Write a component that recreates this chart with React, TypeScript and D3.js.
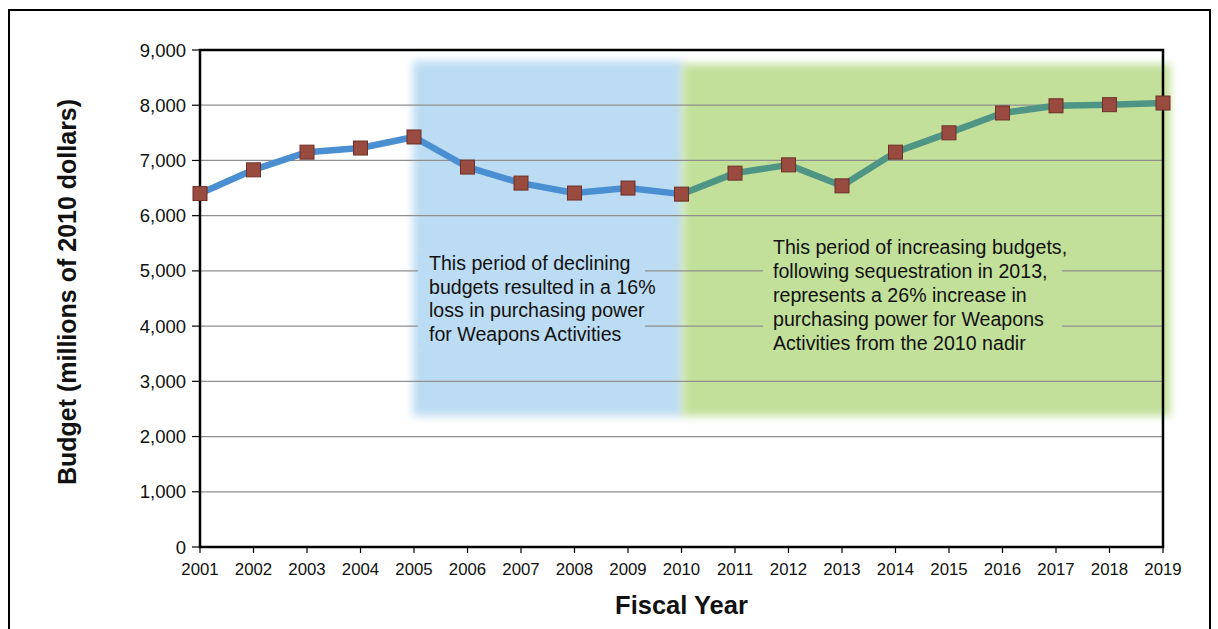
import React from "react";
import * as d3 from "d3";

const years = [2001, 2002, 2003, 2004, 2005, 2006, 2007, 2008, 2009, 2010, 2011, 2012, 2013, 2014, 2015, 2016, 2017, 2018, 2019];
const budget = [6400, 6830, 7150, 7225, 7425, 6880, 6590, 6410, 6500, 6390, 6770, 6920, 6540, 7150, 7500, 7860, 7990, 8010, 8040];
const yTicks = [0, 1000, 2000, 3000, 4000, 5000, 6000, 7000, 8000, 9000];
const declineText = ["This period of declining", "budgets resulted in a 16%", "loss in purchasing power", "for Weapons Activities"];
const increaseText = ["This period of increasing budgets,", "following sequestration in 2013,", "represents a 26% increase in", "purchasing power for Weapons", "Activities from the 2010 nadir"];

const W = 1218, H = 629;
const L = 200, R = 1163, T = 50, B = 547;
const FONT = "'Liberation Sans', Arial, Helvetica, sans-serif";

export default function App() {
  const x = d3.scaleLinear().domain([2001, 2019]).range([L, R]);
  const y = d3.scaleLinear().domain([0, 9000]).range([B, T]);
  const pts = years.map((yr, i) => [x(yr), y(budget[i])] as [number, number]);
  const line = d3.line();
  const split = years.indexOf(2010);
  const bluePath = line(pts.slice(0, split + 1)) || "";
  const tealPath = line(pts.slice(split)) || "";
  const fmt = d3.format(",");
  const ms = 14;

  return (
    <svg width={W} height={H} style={{ position: "absolute", left: 0, top: 0, background: "#fff" }}>
      <defs>
        <filter id="soft" x="-5%" y="-5%" width="110%" height="110%">
          <feGaussianBlur stdDeviation="4" />
        </filter>
      </defs>
      {/* outer frame */}
      <path d={`M9,${H + 5} V10 H1210 V${H + 5}`} fill="none" stroke="#000" strokeWidth={2} />

      {/* shaded regions */}
      <rect x={x(2005) - 1} y={61} width={x(2010) - x(2005) + 3} height={355} fill="#bcdcf3" filter="url(#soft)" />
      <rect x={x(2010) + 1} y={64} width={R - x(2010) + 6} height={352} fill="#c2e09a" filter="url(#soft)" />

      {/* gridlines */}
      {yTicks.filter(t => t > 0 && t < 9000).map(t => (
        <line key={t} x1={L} x2={R} y1={y(t)} y2={y(t)} stroke="#8f8f8f" strokeWidth={1.2} />
      ))}

      {/* text backgrounds */}
      <rect x={418} y={250} width={227} height={98} fill="#bcdcf3" />
      <rect x={763} y={232} width={299} height={120} fill="#c2e09a" />

      {/* annotations */}
      <text fontFamily={FONT} fontSize={19.6} fill="#111">
        {declineText.map((s, i) => (
          <tspan key={i} x={429} y={270 + i * 23.7}>{s}</tspan>
        ))}
      </text>
      <text fontFamily={FONT} fontSize={19.6} fill="#111">
        {increaseText.map((s, i) => (
          <tspan key={i} x={773} y={254 + i * 24}>{s}</tspan>
        ))}
      </text>

      {/* plot frame */}
      <rect x={L} y={T} width={R - L} height={B - T} fill="none" stroke="#000" strokeWidth={2.5} />

      {/* y ticks */}
      {yTicks.map(t => (
        <g key={t}>
          <line x1={L - 8} x2={L} y1={y(t)} y2={y(t)} stroke="#000" strokeWidth={1.2} />
          <text x={L - 14} y={y(t) + 6.5} textAnchor="end" fontFamily={FONT} fontSize={18.5} fill="#111">{fmt(t)}</text>
        </g>
      ))}
      {/* x ticks */}
      {years.map(yr => (
        <g key={yr}>
          <line x1={x(yr)} x2={x(yr)} y1={B} y2={B + 6} stroke="#000" strokeWidth={1.2} />
          <text x={x(yr)} y={B + 28} textAnchor="middle" fontFamily={FONT} fontSize={16.8} fill="#111">{yr}</text>
        </g>
      ))}

      {/* lines */}
      <path d={bluePath} fill="none" stroke="#4a8fd2" strokeWidth={6.5} strokeLinejoin="round" />
      <path d={tealPath} fill="none" stroke="#4f9585" strokeWidth={6.5} strokeLinejoin="round" />

      {/* markers */}
      {pts.map(([px, py], i) => (
        <rect key={i} x={px - ms / 2} y={py - ms / 2} width={ms} height={ms} fill="#984b3e" stroke="#6e2f27" strokeWidth={1} />
      ))}

      {/* axis titles */}
      <text x={(L + R) / 2} y={614} textAnchor="middle" fontFamily={FONT} fontSize={25.5} fontWeight="bold" fill="#111">Fiscal Year</text>
      <text transform={`translate(76,292) rotate(-90)`} textAnchor="middle" fontFamily={FONT} fontSize={25} fontWeight="bold" fill="#111">Budget (millions of 2010 dollars)</text>
    </svg>
  );
}
